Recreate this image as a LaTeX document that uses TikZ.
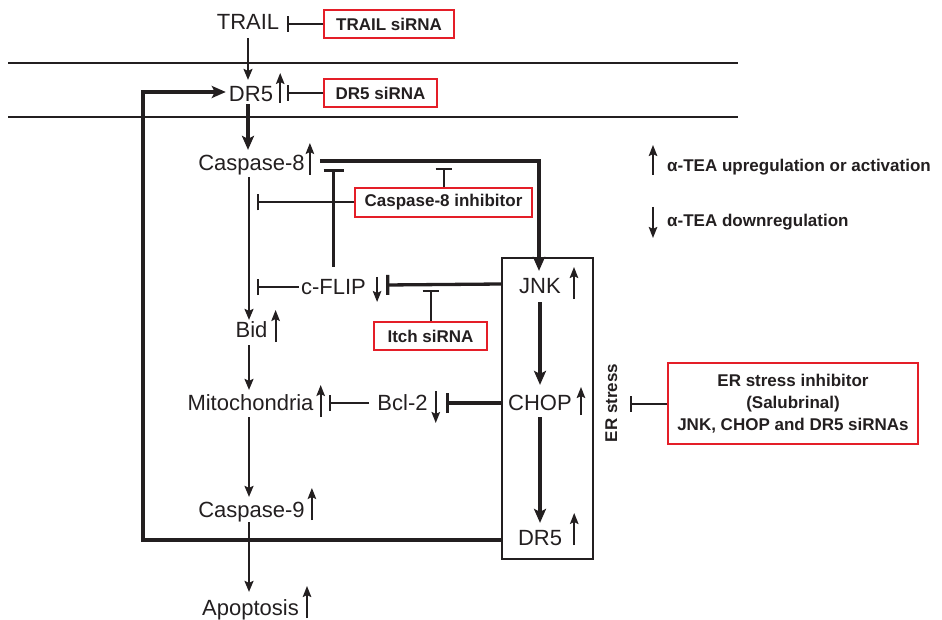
\documentclass[tikz,border=0pt]{standalone}
\usepackage{fontspec}
\setmainfont{Liberation Sans}
\usetikzlibrary{arrows.meta,calc}
\definecolor{boxred}{RGB}{228,30,40}
\definecolor{ink}{RGB}{35,31,32}
\tikzset{
  lbl/.style={inner sep=0pt, text height=15.8pt, text depth=0pt, font=\fontsize{22}{24}\selectfont, text=ink},
  bld/.style={inner sep=0pt, text height=12.2pt, text depth=0pt, font=\fontsize{17}{20}\selectfont\bfseries, text=ink},
  redbox/.style={draw=boxred, line width=1.4pt, inner sep=0pt, font=\fontsize{17}{20}\selectfont\bfseries, text=ink, align=center},
  thinline/.style={draw=ink, line width=2pt},
  thickline/.style={draw=ink, line width=3.3pt},
  thinarr/.style={thinline, -{Stealth[length=11pt,width=9pt,inset=2pt]}},
  thickarr/.style={thickline, -{Stealth[length=14pt,width=12pt,inset=3pt]}},
  thinbar/.style={thinline, -{Bar[width=16pt]}},
  thickbar/.style={thickline, -{Bar[width=20pt]}},
  ind/.style={draw=ink, line width=1.9pt, -{Stealth[length=11pt,width=8.5pt,inset=2pt]}},
  membrane/.style={draw=ink, line width=2pt}
}
\begin{document}
\begin{tikzpicture}[x=1pt,y=-1pt]
\useasboundingbox (0,0) rectangle (942,620);
% membranes
\draw[membrane] (8,63) -- (738,63);
\draw[membrane] (8,117) -- (738,117);

% nodes
\node[lbl] (trail) at (248,22) {TRAIL};
\node[redbox, minimum width=130pt, minimum height=28pt] (trailsi) at (389,24) {TRAIL siRNA};
\node[lbl] (dr5) at (251,94) {DR5};
\node[redbox, minimum width=113pt, minimum height=28pt] (dr5si) at (380.5,93) {DR5 siRNA};
\node[lbl] (cas8) at (251.5,163) {Caspase-8};
\node[redbox, minimum width=177pt, minimum height=29pt] (c8inh) at (443.5,202.5) {Caspase-8 inhibitor};
\node[lbl] (cflip) at (333.5,287) {c-FLIP};
\node[redbox, minimum width=113pt, minimum height=28pt] (itch) at (430.5,336) {Itch siRNA};
\node[lbl] (bid) at (251.5,330) {Bid};
\node[lbl] (mito) at (250.5,403) {Mitochondria};
\node[lbl] (bcl2) at (402.5,403) {Bcl-2};
\node[lbl] (cas9) at (251.5,510) {Caspase-9};
\node[lbl] (apop) at (250.5,608) {Apoptosis};
\node[draw=ink, line width=1.5pt, minimum width=91pt, minimum height=301pt, inner sep=0pt] (erbox) at (547.5,408.5) {};
\node[lbl] (jnk) at (540,286) {JNK};
\node[lbl] (chop) at (540,403) {CHOP};
\node[lbl] (dr5b) at (540,538) {DR5};
\node[bld, rotate=90] (erst) at (611,403) {ER stress};
\node[redbox, minimum width=250pt, minimum height=81pt] (erinh) at (793,403.5)
  {ER stress inhibitor\\[2pt](Salubrinal)\\[2pt]JNK, CHOP and DR5 siRNAs};

% legend
\node[bld, anchor=west] (legup) at (667,165) {α-TEA upregulation or activation};
\node[bld, anchor=west] (legdn) at (667,220) {α-TEA downregulation};
\draw[ind] ($(legup.west)+(-14,10)$) -- ++(0,-30);
\draw[ind] ($(legdn.west)+(-14,-13)$) -- ++(0,31);

% main connectors
\draw[thinarr, shorten <=8pt, shorten >=6pt] (trail.south) -- (trail.south |- dr5.north);
\draw[thickarr, shorten <=2pt, shorten >=5pt] ($(dr5.south)+(-3,0)$) -- ($(cas8.north)+(-3.5,0)$);
\draw[thinarr, shorten <=6pt, shorten >=2pt] ($(cas8.south)+(-2.5,0)$) -- ($(bid.north)+(-2.5,0)$);
\draw[thinarr, shorten <=7pt, shorten >=5pt] ($(bid.south)+(-2.5,0)$) -- ($(mito.north)+(-1.5,0)$);
\draw[thinarr, shorten <=6pt, shorten >=5pt] ($(mito.south)+(-1.5,0)$) -- ($(cas9.north)+(-2.5,0)$);
\draw[thinarr, shorten <=4pt, shorten >=8pt] ($(cas9.south)+(-2.5,0)$) -- ($(apop.north)+(-1.5,0)$);
\draw[thickarr, shorten >=7pt] ($(cas8.east)+(15,-2)$) -| ($(jnk.north)+(-1,0)$);
\draw[thickarr, shorten <=8pt, shorten >=10pt] (jnk.south) -- (chop.north);
\draw[thickarr, shorten <=6pt, shorten >=7pt] (chop.south) -- (dr5b.north);
\coordinate (fb) at (143,540);
\draw[thickarr, shorten >=3pt] (erbox.west |- fb) -- (fb) |- ($(dr5.west)+(0,-2)$);

% inhibitions
\draw[thinbar] (trailsi.west) -- ++(-36,0);
\draw[thinbar] (dr5si.west) -- ++(-36,0);
\draw[thinbar] (c8inh.north) -- ++(0,-19);
\draw[thinbar] (c8inh.west) -- ++(-97,0);
\draw[thickbar] ($(cflip.north)+(0,-12)$) -- ++(0,-98);
\draw[thinbar] ($(cflip.west)+(-2,0)$) -- ++(-42,0);
\draw[thickbar] ($(erbox.west |- jnk)+(0,-2)$) -- ($(cflip.east)+(20,-2)$);
\draw[thinbar] (itch.north) -- ++(0,-31);
\draw[thickbar] (erbox.west |- chop) -- ($(bcl2.east)+(18,0)$);
\draw[thinbar] ($(bcl2.west)+(-8,0)$) -- ++(-40,0);
\draw[thinbar] (erinh.west) -- ++(-37,0);

% indicator arrows
\draw[ind] ($(dr5.east)+(7,9)$) -- ++(0,-30);
\draw[ind] ($(cas8.east)+(5,12)$) -- ++(0,-32);
\draw[ind] ($(bid.east)+(8,12)$) -- ++(0,-32);
\draw[ind] ($(mito.east)+(7,14)$) -- ++(0,-32);
\draw[ind] ($(cas9.east)+(7,10)$) -- ++(0,-32);
\draw[ind] ($(apop.east)+(8,10)$) -- ++(0,-32);
\draw[ind] ($(jnk.east)+(13,13)$) -- ++(0,-32);
\draw[ind] ($(chop.east)+(9,12)$) -- ++(0,-28);
\draw[ind] ($(dr5b.east)+(12,7)$) -- ++(0,-32);
\draw[ind] ($(cflip.east)+(11,-10)$) -- ++(0,25);
\draw[ind] ($(bcl2.east)+(8,-12)$) -- ++(0,32);
\end{tikzpicture}
\end{document}
